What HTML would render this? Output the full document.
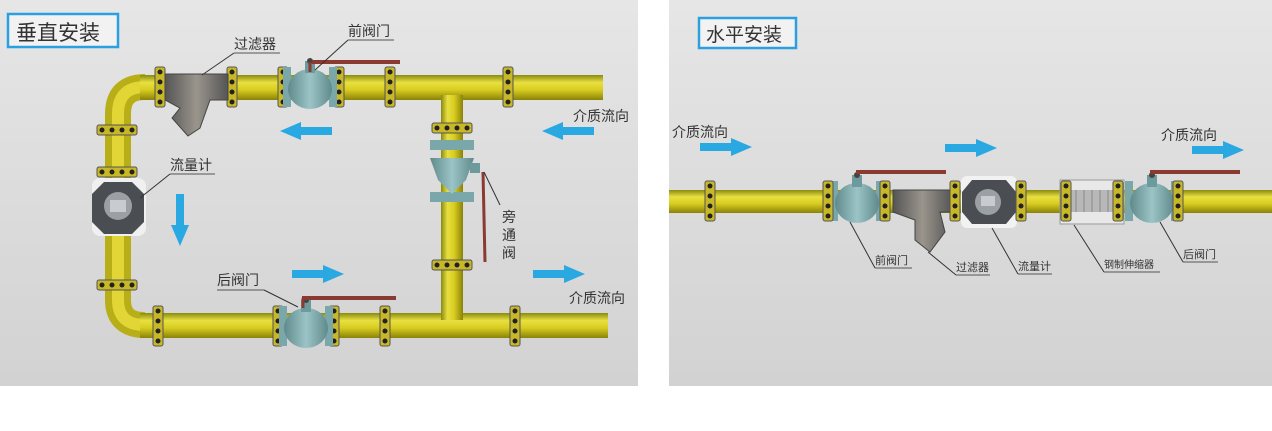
<!DOCTYPE html>
<html><head><meta charset="utf-8"><style>
body{margin:0;background:#fff;width:1272px;height:431px;overflow:hidden}
svg{display:block}
text{font-family:"Liberation Sans","Noto Sans CJK SC",sans-serif;fill:#333}
</style></head><body>
<svg width="1272" height="431" viewBox="0 0 1272 431">
<defs>
<linearGradient id="bg" x1="0" y1="0" x2="0" y2="1"><stop offset="0" stop-color="#e6e6e6"/><stop offset="1" stop-color="#d2d2d2"/></linearGradient>
<linearGradient id="ph" x1="0" y1="0" x2="0" y2="1"><stop offset="0" stop-color="#8a8a10"/><stop offset=".3" stop-color="#e8e040"/><stop offset=".6" stop-color="#d8cc20"/><stop offset="1" stop-color="#8a8208"/></linearGradient>
<linearGradient id="pv" x1="0" y1="0" x2="1" y2="0"><stop offset="0" stop-color="#8a8a10"/><stop offset=".3" stop-color="#e8e040"/><stop offset=".6" stop-color="#d8cc20"/><stop offset="1" stop-color="#8a8208"/></linearGradient>
<linearGradient id="vl" x1="0" y1="0" x2="1" y2="0"><stop offset="0" stop-color="#5f8a8c"/><stop offset=".5" stop-color="#9cc4c6"/><stop offset="1" stop-color="#5f8a8c"/></linearGradient>
<linearGradient id="fl" x1="0" y1="0" x2="1" y2="0"><stop offset="0" stop-color="#555"/><stop offset=".5" stop-color="#9a958c"/><stop offset="1" stop-color="#555"/></linearGradient>
<g id="fh"><rect x="-5" y="-20" width="10" height="40" rx="2" fill="#c8b828" stroke="#555" stroke-width="1"/><circle cx="0" cy="-15" r="2.5" fill="#222"/><circle cx="0" cy="-5" r="2.5" fill="#222"/><circle cx="0" cy="5" r="2.5" fill="#222"/><circle cx="0" cy="15" r="2.5" fill="#222"/></g>
<g id="fv"><rect x="-20" y="-5" width="40" height="10" rx="2" fill="#c8b828" stroke="#555" stroke-width="1"/><circle cx="-15" cy="0" r="2.5" fill="#222"/><circle cx="-5" cy="0" r="2.5" fill="#222"/><circle cx="5" cy="0" r="2.5" fill="#222"/><circle cx="15" cy="0" r="2.5" fill="#222"/></g>
<g id="valve"><rect x="-27" y="-20" width="8" height="40" fill="#7aa8aa"/><rect x="19" y="-20" width="8" height="40" fill="#7aa8aa"/><ellipse cx="0" cy="2" rx="22" ry="20" fill="url(#vl)"/><rect x="-5" y="-26" width="10" height="12" fill="#6d9a9c"/><circle cx="0" cy="-26" r="3" fill="#444"/></g>
<g id="arR"><rect x="0" y="-4" width="33" height="8" fill="#29a8e2"/><polygon points="31,-9 52,0 31,9" fill="#29a8e2"/></g>
</defs>
<rect x="0" y="0" width="638" height="386" fill="url(#bg)"/>
<rect x="669" y="0" width="603" height="386" fill="url(#bg)"/>

<rect x="8" y="14" width="110" height="33" fill="#f2f2f2" stroke="#2aa0e0" stroke-width="2.5"/>
<text x="16" y="40" font-size="21" fill="#222">垂直安装</text>
<path d="M145 87 Q118 87 118 114 L118 300 Q118 325 145 325" fill="none" stroke="#b8ae18" stroke-width="26"/>
<path d="M145 87 Q118 87 118 114 L118 300 Q118 325 145 325" fill="none" stroke="#e2d636" stroke-width="12"/>
<rect x="140" y="75" width="463" height="25" fill="url(#ph)"/>
<rect x="140" y="313" width="468" height="25" fill="url(#ph)"/>
<rect x="441" y="95" width="22" height="225" fill="url(#pv)"/>
<use href="#fh" x="160" y="87"/><use href="#fh" x="232" y="87"/><use href="#fh" x="283" y="87"/><use href="#fh" x="339" y="87"/><use href="#fh" x="390" y="87"/><use href="#fh" x="508" y="87"/>
<use href="#fh" x="158" y="326"/><use href="#fh" x="278" y="326"/><use href="#fh" x="334" y="326"/><use href="#fh" x="385" y="326"/><use href="#fh" x="515" y="326"/>
<use href="#fv" x="117" y="130"/><use href="#fv" x="117" y="218"/><use href="#fv" x="117" y="285"/><use href="#fv" x="452" y="128"/><use href="#fv" x="452" y="265"/><use href="#fv" x="117" y="172"/>
<path d="M165 74 L228 74 L228 100 L210 100 L200 128 L188 136 L172 118 L180 108 L165 100Z" fill="url(#fl)" stroke="#444"/>
<use href="#valve" x="310" y="87"/>
<line x1="312" y1="62" x2="400" y2="62" stroke="#8a3a30" stroke-width="4"/><line x1="310" y1="62" x2="310" y2="72" stroke="#8a3a30" stroke-width="3"/>
<use href="#valve" x="306" y="326"/>
<line x1="302" y1="298" x2="396" y2="298" stroke="#8a3a30" stroke-width="4"/><line x1="303" y1="298" x2="303" y2="308" stroke="#8a3a30" stroke-width="3"/>
<rect x="430" y="140" width="44" height="10" fill="#7aa8aa"/><rect x="430" y="192" width="44" height="10" fill="#7aa8aa"/>
<path d="M430 158 L474 158 L466 180 L452 194 L438 180Z" fill="url(#vl)"/><rect x="470" y="163" width="10" height="10" fill="#6d9a9c"/>
<line x1="483" y1="172" x2="485" y2="262" stroke="#8a3a30" stroke-width="3"/>
<rect x="92" y="178" width="54" height="58" rx="8" fill="#f0f0f0"/>
<path d="M104 182 L132 182 L144 194 L144 222 L132 234 L104 234 L92 222 L92 194Z" fill="#4a4e52"/>
<circle cx="118" cy="206" r="14" fill="#9aa0a4"/><rect x="110" y="200" width="16" height="12" fill="#c8ccd0"/>
<g transform="translate(332,131) scale(-1,1)"><use href="#arR"/></g>
<g transform="translate(594,131) scale(-1,1)"><use href="#arR"/></g>
<use href="#arR" x="292" y="274"/><use href="#arR" x="533" y="274"/>
<g transform="translate(180,194) rotate(90)"><use href="#arR" x="0" y="0"/></g>
<g font-size="14">
<text x="234" y="49">过滤器</text><line x1="234" y1="53" x2="280" y2="53" stroke="#555"/><line x1="234" y1="53" x2="202" y2="75" stroke="#333"/>
<text x="348" y="36">前阀门</text><line x1="348" y1="40" x2="394" y2="40" stroke="#555"/><line x1="348" y1="40" x2="315" y2="70" stroke="#333"/>
<text x="170" y="170">流量计</text><line x1="170" y1="174" x2="215" y2="174" stroke="#555"/><line x1="170" y1="174" x2="140" y2="198" stroke="#333"/>
<text x="217" y="285">后阀门</text><line x1="217" y1="290" x2="264" y2="290" stroke="#555"/><line x1="264" y1="290" x2="298" y2="307" stroke="#333"/>
<text x="502" y="222">旁</text><text x="502" y="240">通</text><text x="502" y="258">阀</text>
<line x1="484" y1="172" x2="500" y2="205" stroke="#333"/>
<text x="573" y="121">介质流向</text>
<text x="569" y="303">介质流向</text>
</g>

<rect x="699" y="18" width="97" height="30" fill="#f2f2f2" stroke="#2aa0e0" stroke-width="2.5"/>
<text x="706" y="41" font-size="19" fill="#222">水平安装</text>
<rect x="669" y="190" width="603" height="23" fill="url(#ph)"/>
<use href="#fh" x="710" y="201"/>
<use href="#valve" x="857" y="201"/>
<line x1="856" y1="172" x2="946" y2="172" stroke="#8a3a30" stroke-width="4"/>
<use href="#fh" x="828" y="201"/><use href="#fh" x="885" y="201"/>
<path d="M893 190 L952 190 L952 212 L940 212 L945 232 L930 252 L915 240 L915 220 L893 212Z" fill="url(#fl)" stroke="#444"/>
<use href="#fh" x="955" y="201"/>
<rect x="961" y="176" width="56" height="52" rx="6" fill="#f2f2f2"/>
<path d="M972 180 L1006 180 L1016 192 L1016 212 L1006 224 L972 224 L962 212 L962 192Z" fill="#4a4e52"/>
<circle cx="988" cy="202" r="13" fill="#9aa0a4"/><rect x="981" y="196" width="14" height="10" fill="#c8ccd0"/>
<use href="#fh" x="1021" y="201"/>
<rect x="1060" y="180" width="64" height="44" fill="#e8e8e8" stroke="#999"/>
<rect x="1070" y="190" width="44" height="22" fill="#b8b8b8"/>
<g stroke="#888"><line x1="1076" y1="190" x2="1076" y2="212"/><line x1="1084" y1="190" x2="1084" y2="212"/><line x1="1092" y1="190" x2="1092" y2="212"/><line x1="1100" y1="190" x2="1100" y2="212"/><line x1="1108" y1="190" x2="1108" y2="212"/></g>
<use href="#fh" x="1066" y="201"/><use href="#fh" x="1118" y="201"/>
<use href="#valve" x="1152" y="201"/>
<line x1="1150" y1="172" x2="1240" y2="172" stroke="#8a3a30" stroke-width="4"/>
<use href="#fh" x="1178" y="201"/>
<use href="#arR" x="700" y="147"/><use href="#arR" x="945" y="148"/><use href="#arR" x="1192" y="150"/>
<g font-size="11" fill="#333">
<text x="875" y="264">前阀门</text><line x1="875" y1="268" x2="912" y2="268" stroke="#555"/><line x1="875" y1="268" x2="850" y2="222" stroke="#333"/>
<text x="956" y="271">过滤器</text><line x1="956" y1="275" x2="990" y2="275" stroke="#555"/><line x1="956" y1="275" x2="928" y2="252" stroke="#333"/>
<text x="1018" y="270">流量计</text><line x1="1018" y1="274" x2="1052" y2="274" stroke="#555"/><line x1="1018" y1="274" x2="992" y2="228" stroke="#333"/>
<text x="1104" y="268" font-size="10">钢制伸缩器</text><line x1="1104" y1="272" x2="1160" y2="272" stroke="#555"/><line x1="1104" y1="272" x2="1074" y2="225" stroke="#333"/>
<text x="1183" y="258">后阀门</text><line x1="1183" y1="262" x2="1218" y2="262" stroke="#555"/><line x1="1183" y1="262" x2="1160" y2="222" stroke="#333"/>
</g>
<text x="672" y="137" font-size="14">介质流向</text>
<text x="1161" y="140" font-size="14">介质流向</text>
</svg>
</body></html>
